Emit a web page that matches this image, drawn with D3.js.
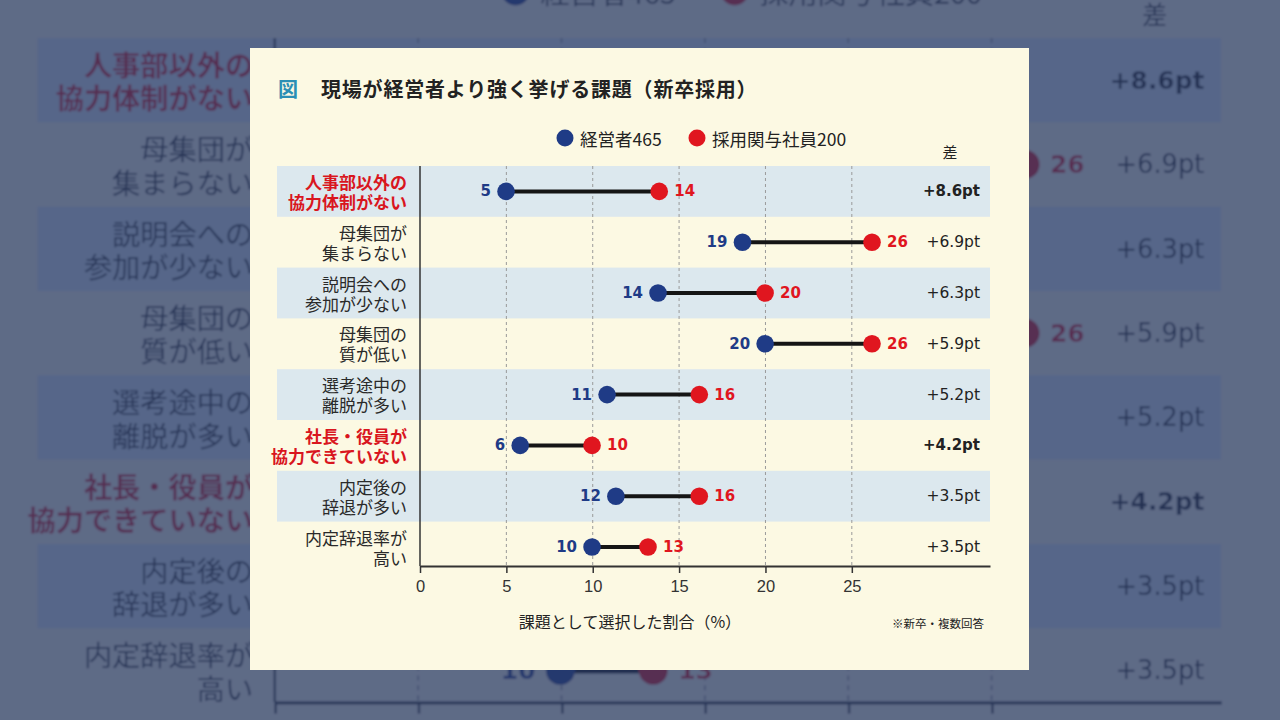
<!DOCTYPE html>
<html><head><meta charset="utf-8">
<script src="https://cdn.jsdelivr.net/npm/d3@7"></script>
<style>body{margin:0;background:#5e6a86;overflow:hidden}</style>
</head><body>
<svg id="c" width="1280" height="720"></svg>
<script>
// ---- data ----
const titleText = "現場が経営者より強く挙げる課題（新卒採用）";
const seriesNames = ["経営者465", "採用関与社員200"];
const categories = [
  ["人事部以外の", "協力体制がない"],
  ["母集団が", "集まらない"],
  ["説明会への", "参加が少ない"],
  ["母集団の", "質が低い"],
  ["選考途中の", "離脱が多い"],
  ["社長・役員が", "協力できていない"],
  ["内定後の", "辞退が多い"],
  ["内定辞退率が", "高い"]
];
const highlighted = [true, false, false, false, false, true, false, false];
const executiveValues = [4.98, 18.67, 13.78, 19.98, 10.83, 5.8, 11.34, 9.96];
const employeeValues = [13.85, 26.17, 19.98, 26.17, 16.17, 9.96, 16.17, 13.2];
const executiveLabels = ["5", "19", "14", "20", "11", "6", "12", "10"];
const employeeLabels = ["14", "26", "20", "26", "16", "10", "16", "13"];
const diffLabels = ["+8.6pt", "+6.9pt", "+6.3pt", "+5.9pt", "+5.2pt", "+4.2pt", "+3.5pt", "+3.5pt"];
const xTicks = [0, 5, 10, 15, 20, 25];
const xAxisTitle = "課題として選択した割合（%）";
const noteText = "※新卒・複数回答";
const diffHeader = "差";

// ---- style ----
const BLUE = "#1f3b86", RED = "#e0161f", CREAM = "#fcf9e3", BAND = "#dce8ee";
const JP = "'Noto Sans CJK JP','Noto Sans',sans-serif";

const svg = d3.select("#c");
const defs = svg.append("defs");
defs.append("filter").attr("id", "blur").attr("x", "-5%").attr("y", "-5%").attr("width", "110%").attr("height", "110%")
  .append("feGaussianBlur").attr("stdDeviation", 0.9);

const x = d3.scaleLinear().domain([0, 33]).range([420, 990]);
const y = d3.scaleBand().domain(d3.range(categories.length)).range([166, 166 + 8 * 50.8]);
const axisY = 566;

function drawCard(g) {
  g.append("rect").attr("x", 250).attr("y", 48).attr("width", 779).attr("height", 622).attr("fill", CREAM);

  // title
  g.append("text").attr("x", 278).attr("y", 88).attr("dominant-baseline", "central")
    .attr("font-family", JP).attr("font-size", 20).attr("font-weight", 700).attr("fill", "#2b8fb5").text("図");
  g.append("text").attr("x", 321).attr("y", 88).attr("dominant-baseline", "central")
    .attr("font-family", JP).attr("font-size", 20).attr("letter-spacing", 0.8).attr("font-weight", 700).attr("fill", "#222").text(titleText);

  // legend
  const legX = [565, 697], legColors = [BLUE, RED];
  seriesNames.forEach((n, i) => {
    g.append("circle").attr("cx", legX[i]).attr("cy", 138).attr("r", 8.5).attr("fill", legColors[i]);
    g.append("text").attr("x", legX[i] + 15).attr("y", 138).attr("dominant-baseline", "central")
      .attr("font-family", JP).attr("font-size", 17.5).attr("fill", "#222").text(n);
  });
  g.append("text").attr("x", 950).attr("y", 151).attr("text-anchor", "middle").attr("dominant-baseline", "central")
    .attr("font-family", JP).attr("font-size", 15).attr("fill", "#222").text(diffHeader);

  // bands
  g.selectAll(null).data(d3.range(categories.length).filter(i => i % 2 === 0)).join("rect")
    .attr("x", 277).attr("y", i => y(i)).attr("width", 990 - 277).attr("height", y.bandwidth()).attr("fill", BAND);

  // grid
  g.selectAll(null).data(xTicks.filter(t => t > 0)).join("line")
    .attr("x1", d => x(d)).attr("x2", d => x(d)).attr("y1", 166).attr("y2", axisY)
    .attr("stroke", "#9a9a9a").attr("stroke-width", 1).attr("stroke-dasharray", "3,3");

  // y axis line
  g.append("line").attr("x1", x(0)).attr("x2", x(0)).attr("y1", 166).attr("y2", axisY)
    .attr("stroke", "#333").attr("stroke-width", 1.5);

  // x axis
  const ax = g.append("g").attr("transform", `translate(0,${axisY})`)
    .call(d3.axisBottom(x).tickValues(xTicks).tickSize(7).tickSizeOuter(0).tickPadding(7));
  ax.select(".domain").attr("stroke", "#333").attr("stroke-width", 2);
  ax.selectAll(".tick line").attr("stroke", "#333").attr("stroke-width", 1.5);
  ax.selectAll(".tick text").attr("font-family", "'Liberation Sans',Arial,sans-serif").attr("font-size", 16.5).attr("fill", "#333");

  // rows
  categories.forEach((lines, i) => {
    const cy = y(i) + y.bandwidth() / 2;
    const hl = highlighted[i];
    lines.forEach((ln, k) => {
      g.append("text").attr("x", 407).attr("y", cy - 10 + k * 20).attr("text-anchor", "end").attr("dominant-baseline", "central")
        .attr("font-family", JP).attr("font-size", 17).attr("font-weight", hl ? 700 : 400)
        .attr("fill", hl ? "#d9161e" : "#2a2a2a").text(ln);
    });
    const xb = x(executiveValues[i]), xr = x(employeeValues[i]);
    g.append("line").attr("x1", xb).attr("x2", xr).attr("y1", cy).attr("y2", cy)
      .attr("stroke", "#151515").attr("stroke-width", 4);
    g.append("circle").attr("cx", xb).attr("cy", cy).attr("r", 8.8).attr("fill", BLUE);
    g.append("circle").attr("cx", xr).attr("cy", cy).attr("r", 8.8).attr("fill", RED);
    g.append("text").attr("x", xb - 15).attr("y", cy).attr("text-anchor", "end").attr("dominant-baseline", "central")
      .attr("font-family", "'DejaVu Sans',sans-serif").attr("font-weight", 700).attr("font-size", 15).attr("fill", BLUE)
      .text(executiveLabels[i]);
    g.append("text").attr("x", xr + 15).attr("y", cy).attr("dominant-baseline", "central")
      .attr("font-family", "'DejaVu Sans',sans-serif").attr("font-weight", 700).attr("font-size", 15).attr("fill", RED)
      .text(employeeLabels[i]);
    g.append("text").attr("x", 980).attr("y", cy).attr("text-anchor", "end").attr("dominant-baseline", "central")
      .attr("font-family", "'DejaVu Sans',sans-serif").attr("font-weight", hl ? 700 : 400)
      .attr("font-size", hl ? 15 : 15.5).attr("fill", "#222").text(diffLabels[i]);
  });

  // axis title & note
  g.append("text").attr("x", 630).attr("y", 621).attr("text-anchor", "middle").attr("dominant-baseline", "central")
    .attr("font-family", JP).attr("font-size", 16).attr("fill", "#222").text(xAxisTitle);
  g.append("text").attr("x", 984).attr("y", 623).attr("text-anchor", "end").attr("dominant-baseline", "central")
    .attr("font-family", JP).attr("font-size", 11.5).attr("fill", "#222").text(noteText);
}

// background: enlarged, blurred and dimmed copy
const S = 1.66;
const bg = svg.append("g").attr("filter", "url(#blur)")
  .append("g").attr("transform", `translate(640,360) scale(${S}) translate(-640,-360)`);
drawCard(bg);
// drop background texts that are completely hidden behind the front card
bg.selectAll("text").each(function () {
  const b = this.getBBox();
  const ctm = this.getCTM();
  const p1 = new DOMPoint(b.x, b.y).matrixTransform(ctm);
  const p2 = new DOMPoint(b.x + b.width, b.y + b.height).matrixTransform(ctm);
  if (p1.x >= 250 && p2.x <= 1029 && p1.y >= 48 && p2.y <= 670) this.remove();
});
svg.append("rect").attr("width", 1280).attr("height", 720).attr("fill", "rgb(39,56,101)").attr("fill-opacity", 0.74);

// foreground card
drawCard(svg.append("g"));
</script>
</body></html>
